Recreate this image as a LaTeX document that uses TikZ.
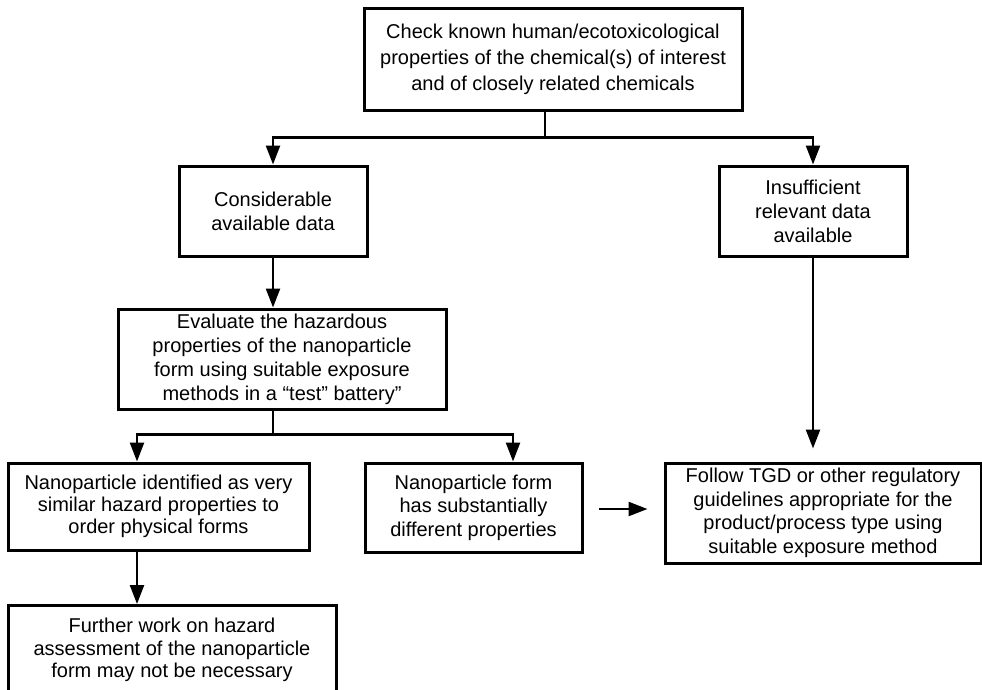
\documentclass[tikz,border=0pt]{standalone}
\usepackage{fontspec}
\setmainfont{Liberation Sans}
\usetikzlibrary{arrows.meta,calc}
\begin{document}
\begin{tikzpicture}[x=1pt,y=-1pt,
  box/.style={draw, line width=3pt, align=center, inner sep=0pt, font=\fontsize{20}{24}\selectfont},
  conn/.style={line width=2.4pt},
  arr/.style={conn, -{Triangle[width=14pt,length=19pt]}}]
\useasboundingbox (0,0) rectangle (982,689);
\clip (0,0) rectangle (982,689);
\node[box, minimum width=378pt, minimum height=102pt, font=\fontsize{20}{26}\selectfont] (top) at (553,59)
  {Check known human/ecotoxicological\\properties of the chemical(s) of interest\\and of closely related chemicals};
\node[box, minimum width=188pt, minimum height=90pt] (cons) at (273,211) {Considerable\\available data};
\node[box, minimum width=188pt, minimum height=90pt] (insuf) at (813,211) {Insufficient\\relevant data\\available};
\node[box, minimum width=328pt, minimum height=100pt] (eval) at (282,359)
  {Evaluate the hazardous\\properties of the nanoparticle\\form using suitable exposure\\methods in a “test” battery”};
\node[box, minimum width=301pt, minimum height=87pt, font=\fontsize{20}{22}\selectfont] (npl) at (158.5,506.5)
  {Nanoparticle identified as very\\similar hazard properties to\\order physical forms};
\node[box, minimum width=217pt, minimum height=89pt, font=\fontsize{20}{23.5}\selectfont] (npm) at (473.5,507.5)
  {Nanoparticle form\\has substantially\\different properties};
\node[box, minimum width=316pt, minimum height=100pt, font=\fontsize{20}{23.5}\selectfont] (follow) at (823,513)
  {Follow TGD or other regulatory\\guidelines appropriate for the\\product/process type using\\suitable exposure method};
\node[box, anchor=north, font=\fontsize{20}{22.5}\selectfont] (further) at (172,604)
  {\begin{minipage}[c][130pt][t]{328pt}\vspace*{12.5pt}\centering
   Further work on hazard\\assessment of the nanoparticle\\form may not be necessary\end{minipage}};
% connectors
\coordinate (j1) at ($(top.south)+(-8,26)$);
\draw[conn] ([xshift=-8pt]top.south) -- (j1);
\draw[arr] (j1) -| (cons.north);
\draw[arr] (j1) -| (insuf.north);
\draw[arr] (cons.south) -- (cons.south |- eval.north);
\coordinate (j2) at ($(cons.south |- eval.south)+(0,24)$);
\draw[conn] (cons.south |- eval.south) -- (j2);
\draw[arr] (j2) -| ([xshift=-21.5pt]npl.north);
\draw[arr] (j2) -| ([xshift=39.5pt]npm.north);
\draw[arr] ([xshift=-21.5pt]npl.south) -- ($(further.north)+(-35,0)$);
\coordinate (a1) at ([xshift=15pt,yshift=-1.5pt]npm.east);
\draw[arr] (a1) -- ($(a1 -| follow.west)+(-16,0)$);
\draw[arr] (insuf.south) -- ($(follow.north -| insuf.south)+(0,-13)$);
\end{tikzpicture}
\end{document}
